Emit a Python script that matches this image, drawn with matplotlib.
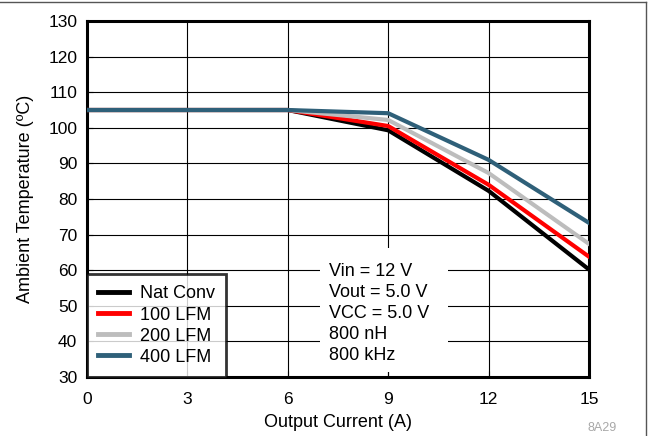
import matplotlib
matplotlib.use("Agg")
import matplotlib.pyplot as plt
from matplotlib.lines import Line2D
from matplotlib.patches import Rectangle

plt.rcParams["font.family"] = ["Liberation Sans", "DejaVu Sans"]

# derating curves: ambient temperature vs output current
current = [0, 3, 6, 9, 12, 15]
nat_conv = [105, 105, 105, 99.3, 82.3, 60.2]
lfm_100 = [105, 105, 105, 100.5, 84.0, 63.8]
lfm_200 = [105, 105, 105, 102.2, 87.3, 67.4]
lfm_400 = [105, 105, 105, 104.1, 91.0, 73.3]

series = [
    ("Nat Conv", nat_conv, "black"),
    ("100 LFM", lfm_100, "#ff0000"),
    ("200 LFM", lfm_200, "#bdbdbd"),
    ("400 LFM", lfm_400, "#2f6079"),
]

conditions = ["Vin = 12 V", "Vout = 5.0 V", "VCC = 5.0 V", "800 nH", "800 kHz"]

x_ticks = [0, 3, 6, 9, 12, 15]
y_ticks = list(range(30, 131, 10))

fig = plt.figure(figsize=(6.51, 4.36), dpi=100)
ax = fig.add_axes([0.1336, 0.1353, 0.7711, 0.8165])

for label, temps, color in series:
    ax.plot(current, temps, color=color, lw=3.0, label=label,
            solid_joinstyle="miter", zorder=3)

ax.set_xlim(0, 15)
ax.set_ylim(30, 130)
ax.set_xticks(x_ticks)
ax.set_yticks(y_ticks)
ax.grid(True, color="black", lw=0.8)
ax.tick_params(direction="in", length=4, width=0.8, labelsize=12.5)
ax.tick_params(axis="x", pad=11)
ax.tick_params(axis="y", pad=7)
for spine in ax.spines.values():
    spine.set_linewidth(2.2)

ax.set_xlabel("Output Current (A)", fontsize=13, labelpad=4.5)
ax.set_ylabel("Ambient Temperature (ºC)", fontsize=13, labelpad=10)

leg = ax.legend(loc="lower left", fontsize=13, frameon=True, fancybox=False,
                borderaxespad=0, handlelength=1.7, handletextpad=0.6,
                labelspacing=0.23, borderpad=0.62)
leg.get_frame().set_edgecolor("black")
leg.get_frame().set_linewidth(2.0)
leg.set_zorder(5)
for h in leg.get_lines():
    h.set_linewidth(3.5)

# white panel holding the operating conditions
ax.add_patch(Rectangle((0.464, 0.014), 0.255, 0.348, transform=ax.transAxes,
                       facecolor="white", edgecolor="none", zorder=2.5))
ax.text(0.482, 0.319, "\n".join(conditions), transform=ax.transAxes,
        ha="left", va="top", fontsize=13, linespacing=1.3, zorder=4)

fig.text(0.925, 0.018, "8A29", color="#a8a8a8", fontsize=9, ha="center", va="center")

# figure frame lines
fig.add_artist(Line2D([0, 0.993], [0.995, 0.995], color="#555555", lw=1.0))
fig.add_artist(Line2D([0.993, 0.993], [0, 0.995], color="#555555", lw=1.0))

fig.savefig("out.png", dpi=100)
